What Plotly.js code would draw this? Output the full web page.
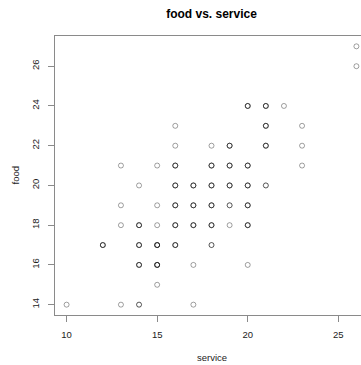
<!DOCTYPE html>
<html>
<head>
<meta charset="utf-8">
<script src="https://cdn.plot.ly/plotly-3.0.1.min.js"></script>
<style>
html, body { margin: 0; padding: 0; overflow: hidden; background: #fff; }
#chart { width: 380px; height: 365px; }
</style>
</head>
<body>
<div id="chart"></div>
<script>
// Distinct (service, food) positions read from the picture and how many
// observations seem to overlap at each (darker circle = more overlap).
var servicePts = [26, 26, 20, 21, 22, 16, 21, 23, 16, 18, 19, 21, 23,
  13, 15, 16, 18, 19, 20, 23,
  14, 16, 17, 18, 19, 20, 21,
  13, 15, 16, 17, 18, 19, 20,
  13, 14, 15, 16, 17, 18, 19, 20,
  12, 14, 15, 16, 18,
  14, 15, 17, 20,
  15,
  10, 13, 14, 17];
var foodPts = [27, 26, 24, 24, 24, 23, 23, 23, 22, 22, 22, 22, 22,
  21, 21, 21, 21, 21, 21, 21,
  20, 20, 20, 20, 20, 20, 20,
  19, 19, 19, 19, 19, 19, 19,
  18, 18, 18, 18, 18, 18, 18, 18,
  17, 17, 17, 17, 17,
  16, 16, 16, 16,
  15,
  14, 14, 14, 14];
var overlapCount = [1, 1, 3, 3, 1, 1, 3, 1, 1, 1, 3, 3, 1,
  1, 1, 3, 3, 3, 3, 1,
  1, 3, 3, 3, 3, 3, 2,
  1, 1, 3, 3, 3, 2, 3,
  1, 3, 1, 3, 3, 3, 1, 3,
  3, 3, 4, 3, 2,
  3, 4, 1, 1,
  1,
  1, 1, 2, 1];
var xTicks = [10, 15, 20, 25];
var yTicks = [14, 16, 18, 20, 22, 24, 26];

var service = [], food = [];
for (var i = 0; i < servicePts.length; i++) {
  for (var k = 0; k < overlapCount[i]; k++) {
    service.push(servicePts[i]);
    food.push(foodPts[i]);
  }
}

var font = "Liberation Sans, Arial, Helvetica, sans-serif";

var trace = {
  type: 'scatter',
  mode: 'markers',
  x: service,
  y: food,
  marker: {
    symbol: 'circle-open',
    size: 5,
    color: 'rgba(0,0,0,0.37)',
    line: { width: 1, color: 'rgba(0,0,0,0.37)' }
  },
  hoverinfo: 'x+y'
};

var axisCommon = {
  showgrid: false,
  zeroline: false,
  showline: true,
  mirror: true,
  linecolor: '#8a8a8a',
  linewidth: 1,
  ticks: 'outside',
  ticklen: 6,
  tickwidth: 1,
  tickcolor: '#8a8a8a',
  tickfont: { family: font, size: 9.5, color: '#222' },
  ticklabelstandoff: 5
};

var layout = {
  width: 380,
  height: 365,
  margin: { l: 55, r: 12, t: 36, b: 50 },
  paper_bgcolor: '#fff',
  plot_bgcolor: '#fff',
  showlegend: false,
  title: {
    text: '<b>food vs. service</b>',
    font: { family: font, size: 12, color: '#000' },
    x: 0.5, xref: 'paper', xanchor: 'center',
    y: 1 - 14 / 365, yref: 'container', yanchor: 'middle'
  },
  xaxis: Object.assign({}, axisCommon, {
    range: [9.36, 26.64],
    tickmode: 'array',
    tickvals: xTicks,
    ticktext: xTicks.map(String)
  }),
  yaxis: Object.assign({}, axisCommon, {
    range: [13.48, 27.52],
    tickmode: 'array',
    tickvals: yTicks,
    ticktext: yTicks.map(String),
    tickangle: -90
  }),
  annotations: [
    { text: 'service', xref: 'paper', yref: 'paper', x: 0.5, y: 0,
      xanchor: 'center', yanchor: 'middle', yshift: -42, showarrow: false,
      font: { family: font, size: 9.5, color: '#222' } },
    { text: 'food', xref: 'paper', yref: 'paper', x: 0, y: 0.5,
      xanchor: 'center', yanchor: 'middle', xshift: -40, showarrow: false,
      textangle: -90,
      font: { family: font, size: 9.5, color: '#222' } }
  ]
};

Plotly.newPlot('chart', [trace], layout, { displayModeBar: false, staticPlot: true });
</script>
</body>
</html>
